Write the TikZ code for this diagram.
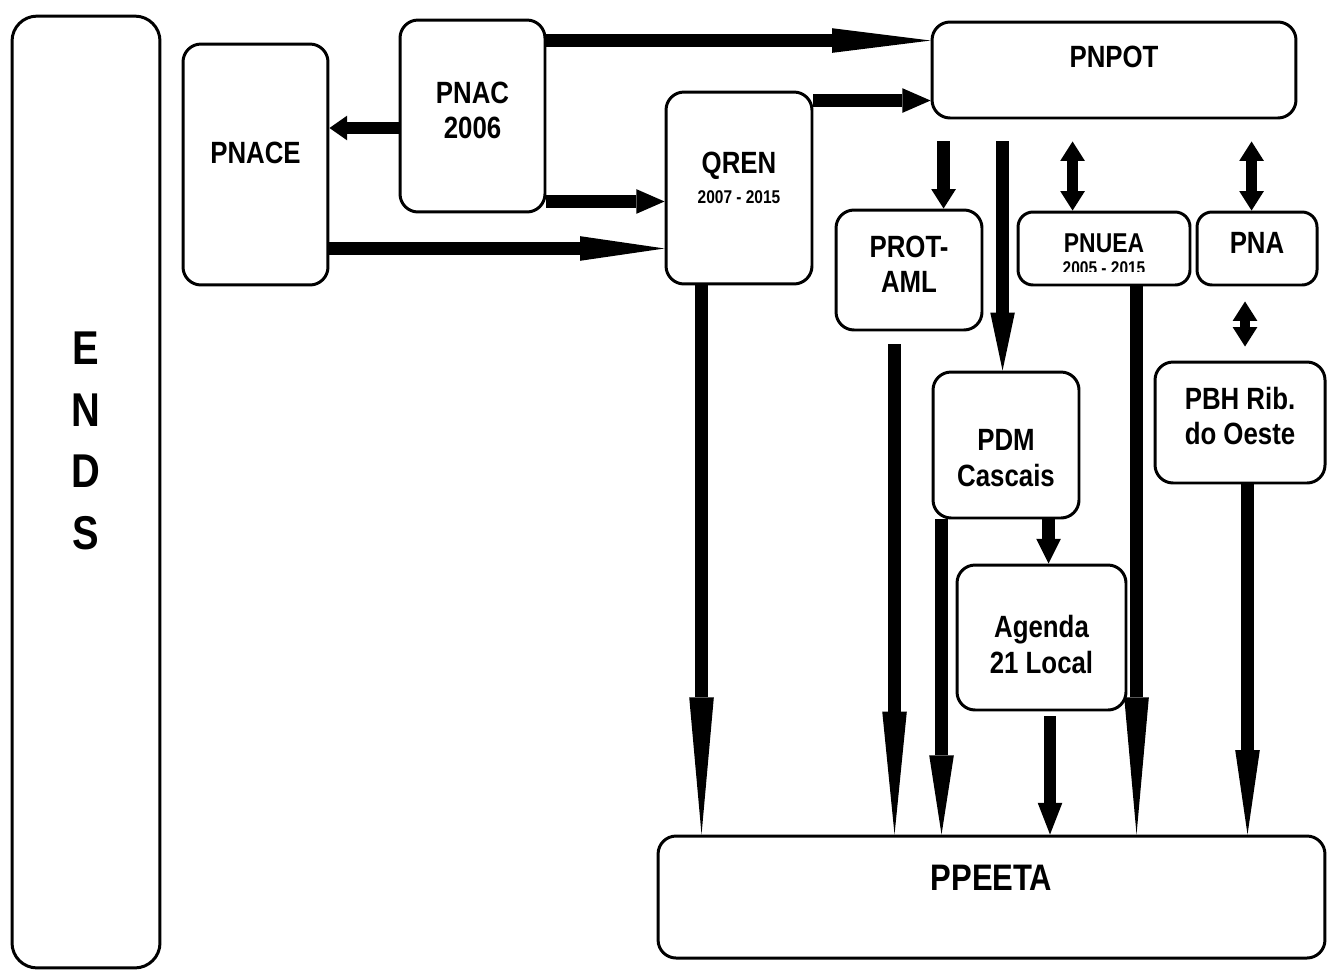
\documentclass[tikz,border=0pt]{standalone}
\usepackage{fontspec}
\setsansfont{Liberation Sans}[FakeStretch=0.84]
\usepackage{tikz}
\usetikzlibrary{calc}
\usetikzlibrary{positioning}
\usetikzlibrary{arrows.meta}

\begin{document}
\begin{tikzpicture}[
    x = .02cm,
    y = -.02cm,
    font = \sffamily\bfseries,
    planf/.style = {
      rectangle,
      draw=black,
      rounded corners=3.6mm,
      line width=1.7pt,
      align=center,
      inner sep=0pt,
      font=\fontsize{17.5}{20.4}\sffamily\bfseries
    },
    yearf/.style = {
      font=\fontsize{10.5}{12}\sffamily\bfseries
    },
    flowa/.style = {
      line width=7pt,
      -{Triangle[length=#1, width=14pt, line width=0pt]}
    },
    bothf/.style = {
      line width=6pt,
      {Triangle[length=11pt, width=14pt, line width=0pt]}-{Triangle[length=11pt, width=14pt, line width=0pt]}
    }
  ]
    \useasboundingbox (0,0) rectangle (1327,971);

    \node[planf, minimum width=2.96cm, minimum height=19.04cm, rounded corners=5mm,
      font=\fontsize{27}{35.2}\sffamily\bfseries, text height=65.8pt, text depth=0pt] (ends) at (86,492) {E\\N\\D\\S};
    \node[planf, minimum width=2.9cm, minimum height=4.82cm, text depth=13pt] (pnace) at (255.5,164.5) {PNACE};
    \node[planf, minimum width=2.9cm, minimum height=3.84cm, text height=26pt, text depth=0pt] (pnac) at (472.5,116) {PNAC\\2006};
    \node[planf, minimum width=2.92cm, minimum height=3.84cm, text height=18.1pt, text depth=0pt] (qren) at (739,188) {QREN\\[-3pt]{\fontsize{10.5}{12}\selectfont 2007 - 2015}};
    \node[planf, minimum width=7.28cm, minimum height=1.92cm, text depth=15pt] (pnpot) at (1114,70) {PNPOT};
    \node[planf, minimum width=2.92cm, minimum height=2.4cm, text height=26pt, text depth=0pt] (prot) at (909,270) {PROT-\\AML};
    \node[planf, minimum width=3.44cm, minimum height=1.46cm, rounded corners=3mm, text depth=6pt, font=\fontsize{15.5}{18}\sffamily\bfseries] (pnuea) at (1104,248.5) {PNUEA};
    \node[planf, minimum width=2.4cm, minimum height=1.46cm, rounded corners=3mm, text depth=6pt] (pna) at (1257,248.5) {PNA};
    \node[planf, minimum width=3.4cm, minimum height=2.42cm, text height=25.5pt, text depth=0pt] (pbh) at (1240,422.5) {PBH Rib.\\do Oeste};
    \node[planf, minimum width=2.92cm, minimum height=2.92cm, text height=47.6pt, text depth=0pt] (pdm) at (1006,445) {PDM\\Cascais};
    \node[planf, minimum width=3.38cm, minimum height=2.9cm, text height=40.8pt, text depth=0pt] (agenda) at (1041.5,637.5) {Agenda\\21 Local};
    \node[planf, minimum width=13.34cm, minimum height=2.44cm, text depth=22pt, font=\fontsize{21}{24}\sffamily\bfseries] (ppeeta) at (991.5,897) {PPEETA};

    % years cut off by the box
    \begin{scope}
      \clip (pnuea.north west) rectangle ($(pnuea.south east)+(0,-15)$);
      \node[yearf] (pnueayears) at ($(pnuea.center)+(0,20)$) {2005 - 2015};
    \end{scope}

    \draw[flowa=56pt] ($(pnac.north east)+(0,22)$) coordinate (a1) -- (a1 -| pnpot.west);
    \draw[flowa=16pt] ($(qren.north east)+(0,10)$) coordinate (a2) -- (a2 -| pnpot.west);
    \draw[flowa=16pt] ($(pnac.south east)+(0,-12)$) coordinate (a3) -- (a3 -| qren.west);
    \draw[flowa=48pt] ($(pnace.south east)+(0,-38)$) coordinate (a4) -- (a4 -| qren.west);
    \draw[flowa=10pt] ($(pnac.west)+(0,12)$) coordinate (a5) -- (a5 -| pnace.east);
    \draw[flowa=78pt] ($(qren.south west)+(37,0)$) coordinate (a6) -- (a6 |- ppeeta.north);
    \draw[flowa=11pt] ($(pnpot.south west)+(13,22)$) coordinate (a7) -- (a7 |- prot.north);
    \draw[flowa=33pt] ($(pnpot.south west)+(72,22)$) coordinate (a8) -- (a8 |- pdm.north);
    \draw[bothf] ($(pnpot.south west)+(142,22)$) coordinate (a9) -- (a9 |- pnuea.north);
    \draw[bothf] ($(pnpot.south west)+(321,22)$) coordinate (a10) -- (a10 |- pna.north);
    \draw[bothf] ($(pna.south)+(-12,15)$) coordinate (a11) -- ($(a11 |- pbh.north)+(0,-14)$);
    \draw[flowa=70pt] ($(prot.south west)+(60,13)$) coordinate (a12) -- (a12 |- ppeeta.north);
    \draw[flowa=45pt] ($(pdm.south west)+(10,0)$) coordinate (a13) -- (a13 |- ppeeta.north);
    \draw[flowa=14pt] ($(pdm.south west)+(117,0)$) coordinate (a14) -- (a14 |- agenda.north);
    \draw[flowa=18pt] ($(agenda.south)+(8.5,5)$) coordinate (a15) -- (a15 |- ppeeta.north);
    \draw[flowa=78pt] ($(pnuea.south west)+(120,0)$) coordinate (a16) -- (a16 |- ppeeta.north);
    \draw[flowa=48pt] ($(pbh.south)+(7.5,0)$) coordinate (a17) -- (a17 |- ppeeta.north);
  \end{tikzpicture}
\end{document}
